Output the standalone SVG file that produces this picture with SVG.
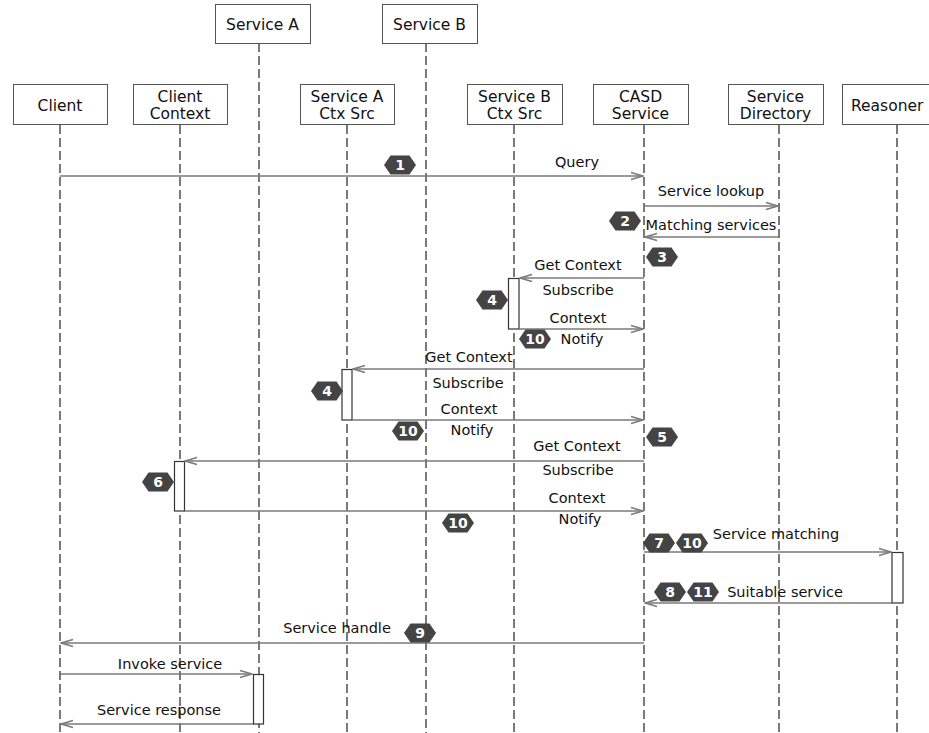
<svg xmlns="http://www.w3.org/2000/svg" width="929" height="733" viewBox="0 0 929 733">
<defs>
<marker id="arr" viewBox="0 0 14 10" refX="13" refY="5" markerWidth="14" markerHeight="10" markerUnits="userSpaceOnUse" orient="auto">
<path d="M1,1.5 L13,5 L1,8.5" fill="none" stroke="#7a7a7a" stroke-width="1.5"/>
</marker>
<g id="hex"><polygon points="-16,0 -9.5,-9.5 9.5,-9.5 16,0 9.5,9.5 -9.5,9.5" fill="#444"/></g>
</defs>
<style>
.box{fill:#fff;stroke:#555;stroke-width:1}
.hd{font-family:"DejaVu Sans",Verdana,sans-serif;font-size:15.5px;fill:#111;text-anchor:middle}
.life{stroke:#222;stroke-width:1.2;stroke-dasharray:9 4;fill:none}
.msg{stroke:#7a7a7a;stroke-width:1.6;fill:none;marker-end:url(#arr)}
.lb{font-family:"DejaVu Sans",Verdana,sans-serif;font-size:14.5px;fill:#111;text-anchor:middle}
.act{fill:#fff;stroke:#333;stroke-width:1.2}
.bn{font-family:"DejaVu Sans",Verdana,sans-serif;font-size:14px;font-weight:bold;fill:#fff;text-anchor:middle}
</style>
<rect width="929" height="733" fill="#fff"/>

<g id="lifelines">
<line class="life" x1="60" y1="125" x2="60" y2="733"/>
<line class="life" x1="180" y1="125" x2="180" y2="733"/>
<line class="life" x1="259" y1="43" x2="259" y2="733"/>
<line class="life" x1="347" y1="125" x2="347" y2="733"/>
<line class="life" x1="426" y1="43" x2="426" y2="733"/>
<line class="life" x1="514" y1="125" x2="514" y2="733"/>
<line class="life" x1="644" y1="125" x2="644" y2="733"/>
<line class="life" x1="779" y1="125" x2="779" y2="733"/>
<line class="life" x1="897" y1="125" x2="897" y2="733"/>
</g>

<g id="node-serviceA"><rect class="box" x="215.5" y="4.5" width="95" height="39"/><text class="hd" x="262.5" y="30">Service A</text></g>
<g id="node-serviceB"><rect class="box" x="382.5" y="4.5" width="95" height="39"/><text class="hd" x="429.5" y="30">Service B</text></g>
<g id="node-client"><rect class="box" x="13.5" y="84.5" width="94" height="40"/><text class="hd" x="60" y="111">Client</text></g>
<g id="node-clientctx"><rect class="box" x="133.5" y="84.5" width="94" height="40"/><text class="hd" x="180" y="102">Client</text><text class="hd" x="180" y="119">Context</text></g>
<g id="node-actx"><rect class="box" x="300.5" y="84.5" width="94" height="40"/><text class="hd" x="347" y="102">Service A</text><text class="hd" x="347" y="119">Ctx Src</text></g>
<g id="node-bctx"><rect class="box" x="467.5" y="84.5" width="95" height="40"/><text class="hd" x="514.5" y="102">Service B</text><text class="hd" x="514.5" y="119">Ctx Src</text></g>
<g id="node-casd"><rect class="box" x="593.5" y="84.5" width="95" height="40"/><text class="hd" x="640.5" y="102">CASD</text><text class="hd" x="640.5" y="119">Service</text></g>
<g id="node-dir"><rect class="box" x="728.5" y="84.5" width="95" height="40"/><text class="hd" x="775.5" y="102">Service</text><text class="hd" x="775.5" y="119">Directory</text></g>
<g id="node-reasoner"><rect class="box" x="842.5" y="84.5" width="100" height="40"/><text class="hd" x="851" y="111" style="text-anchor:start">Reasoner</text></g>

<g id="activations">
<rect class="act" x="508.5" y="278.5" width="10.5" height="50.5"/>
<rect class="act" x="342" y="369.5" width="10" height="50.5"/>
<rect class="act" x="174.5" y="461.5" width="10" height="49.5"/>
<rect class="act" x="892" y="552.5" width="11" height="50.5"/>
<rect class="act" x="253.5" y="674.5" width="10" height="49.5"/>
</g>

<g id="connectors">
<line class="msg" x1="60" y1="176" x2="643" y2="176"/>
<line class="msg" x1="644" y1="206" x2="778" y2="206"/>
<line class="msg" x1="779" y1="237" x2="645" y2="237"/>
<line class="msg" x1="644" y1="278" x2="520" y2="278"/>
<line class="msg" x1="519" y1="329" x2="643" y2="329"/>
<line class="msg" x1="644" y1="369" x2="353" y2="369"/>
<line class="msg" x1="352" y1="420" x2="643" y2="420"/>
<line class="msg" x1="644" y1="461" x2="185" y2="461"/>
<line class="msg" x1="184.5" y1="511" x2="643" y2="511"/>
<line class="msg" x1="644" y1="552" x2="891" y2="552"/>
<line class="msg" x1="892" y1="603" x2="645" y2="603"/>
<line class="msg" x1="644" y1="643" x2="61" y2="643"/>
<line class="msg" x1="60" y1="674" x2="252" y2="674"/>
<line class="msg" x1="253" y1="724" x2="61" y2="724"/>
</g>

<g id="labels">
<text class="lb" x="577" y="167">Query</text>
<text class="lb" x="711" y="196">Service lookup</text>
<text class="lb" x="711" y="230">Matching services</text>
<text class="lb" x="578" y="270">Get Context</text>
<text class="lb" x="578" y="295">Subscribe</text>
<text class="lb" x="578" y="323">Context</text>
<text class="lb" x="582" y="344">Notify</text>
<text class="lb" x="469" y="362">Get Context</text>
<text class="lb" x="468" y="388">Subscribe</text>
<text class="lb" x="469" y="414">Context</text>
<text class="lb" x="472" y="435">Notify</text>
<text class="lb" x="577" y="451">Get Context</text>
<text class="lb" x="578" y="475">Subscribe</text>
<text class="lb" x="577" y="503">Context</text>
<text class="lb" x="580" y="524">Notify</text>
<text class="lb" x="776" y="539">Service matching</text>
<text class="lb" x="785" y="597">Suitable service</text>
<text class="lb" x="337" y="633">Service handle</text>
<text class="lb" x="170" y="669">Invoke service</text>
<text class="lb" x="159" y="715">Service response</text>
</g>

<g id="badges">
<use href="#hex" x="400" y="165"/><text class="bn" x="400" y="170">1</text>
<use href="#hex" x="625" y="221"/><text class="bn" x="625" y="226">2</text>
<use href="#hex" x="662" y="257"/><text class="bn" x="662" y="262">3</text>
<use href="#hex" x="492" y="300"/><text class="bn" x="492" y="305">4</text>
<use href="#hex" x="535" y="339"/><text class="bn" x="535" y="344">10</text>
<use href="#hex" x="327" y="391"/><text class="bn" x="327" y="396">4</text>
<use href="#hex" x="408" y="431"/><text class="bn" x="408" y="436">10</text>
<use href="#hex" x="662" y="437"/><text class="bn" x="662" y="442">5</text>
<use href="#hex" x="158" y="482"/><text class="bn" x="158" y="487">6</text>
<use href="#hex" x="458" y="523"/><text class="bn" x="458" y="528">10</text>
<use href="#hex" x="659" y="543"/><text class="bn" x="659" y="548">7</text>
<use href="#hex" x="692" y="543"/><text class="bn" x="692" y="548">10</text>
<use href="#hex" x="670" y="592"/><text class="bn" x="670" y="597">8</text>
<use href="#hex" x="703" y="592"/><text class="bn" x="703" y="597">11</text>
<use href="#hex" x="420" y="633"/><text class="bn" x="420" y="638">9</text>
</g>
</svg>
